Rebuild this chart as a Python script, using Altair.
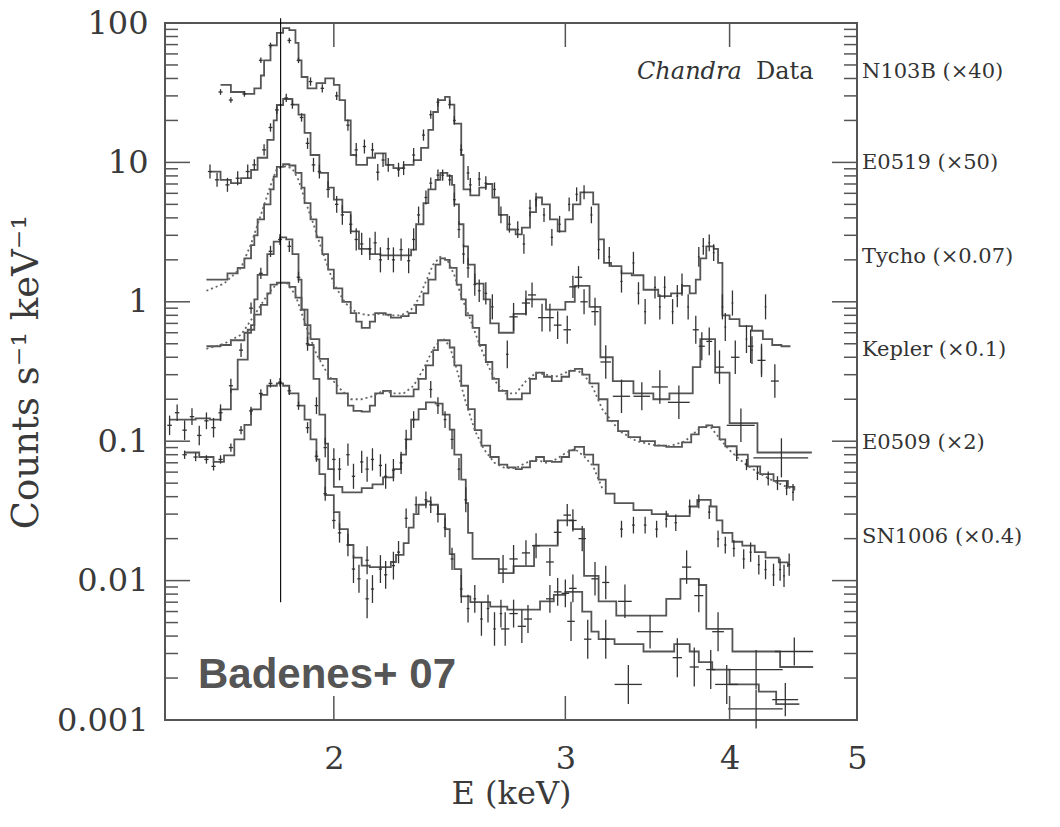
import altair as alt
import pandas as pd

# ---------------- axis ticks / labels ----------------
X_TICKS = [2, 3, 4, 5]
X_TICK_MARKS = [2, 3, 4]
Y_TICKS = [0.001, 0.01, 0.1, 1, 10, 100]
Y_MINOR = [m * t for t in [0.001, 0.01, 0.1, 1, 10] for m in range(2, 10)]
LABELS = ["N103B (×40)", "E0519 (×50)", "Tycho (×0.07)", "Kepler (×0.1)", "E0509 (×2)", "SN1006 (×0.4)"]
SI_LINE_E = [1.822]
SI_LINE_LO = [0.007]
SI_LINE_HI = [108]

# ---------------- model spectra (step histograms) ----------------
n103b_E = [1.64,1.67,1.71,1.74,1.76,1.77,1.79,1.81,1.83,1.85,1.87,1.88,1.89,1.91,1.94,1.97,2.00,2.02,2.04,2.06,
           2.08,2.12,2.15,2.19,2.22,2.26,2.30,2.33,2.36,2.38,2.40,2.43,2.45,2.47,2.50,2.51,2.54,2.58,2.61,2.64,
           2.67,2.71,2.75,2.78,2.82,2.85,2.88,2.92,2.96,3.00,3.04,3.08,3.12,3.15,3.18,3.21,3.25,3.31,3.37,3.44,
           3.53,3.61,3.68,3.73,3.77,3.80,3.84,3.89,3.92,3.95,4.00,4.07,4.16,4.24,4.31,4.38,4.45]
n103b_V = [36,32,31,34,42,54,69,85,92,89,72,54,41,34,37,40,36,28,20,11.3,
           9.6,10.8,11.6,9.6,9.1,9.6,10.4,12.7,17.1,23,28,29.5,26,19,11.3,6.4,5.8,6.6,7.0,5.6,
           4.2,3.3,3.05,3.4,4.4,5.6,5.0,3.9,3.2,3.9,5.0,6.1,6.1,5.0,2.8,1.9,1.8,1.6,1.55,1.22,
           1.1,1.15,1.3,1.15,1.44,2.05,2.5,2.4,1.9,0.8,0.75,0.67,0.62,0.54,0.49,0.48,0.48]

e0519_E = [1.61,1.64,1.67,1.70,1.73,1.75,1.78,1.80,1.81,1.83,1.86,1.88,1.90,1.92,1.95,1.98,2.00,2.03,2.06,2.09,
           2.13,2.17,2.21,2.26,2.29,2.31,2.34,2.36,2.39,2.41,2.44,2.46,2.47,2.49,2.51,2.53,2.56,2.60,2.63,2.67,
           2.74,2.80,2.90,3.00,3.05,3.13,3.19,3.26,3.38,3.50,3.60,3.75,3.80,3.90,4.00,4.20,4.62]
e0519_V = [8.6,7.5,7.1,7.7,8.85,10.8,14.5,20,25.8,28.5,26,22,16.3,11.3,8.4,6.6,5.4,4.4,3.2,2.4,
           2.2,2.15,2.15,2.15,2.37,3.6,5.1,6.4,7.5,8.4,8.0,6.9,5.0,3.6,2.5,1.85,1.35,1.04,0.7,0.6,
           0.82,1.04,0.88,1.0,1.3,0.92,0.4,0.27,0.22,0.2,0.22,0.34,0.54,0.31,0.135,0.083,0.083]

tycho_E = [1.60,1.62,1.66,1.69,1.71,1.73,1.74,1.75,1.77,1.79,1.80,1.81,1.83,1.85,1.87,1.89,1.90,1.92,1.94,1.96,
           1.98,2.00,2.03,2.06,2.08,2.10,2.13,2.15,2.19,2.21,2.25,2.28,2.31,2.34,2.36,2.39,2.41,2.43,2.45,2.48,
           2.50,2.52,2.55,2.58,2.61,2.64,2.67,2.71,2.75,2.78,2.82,2.85,2.89,2.93,2.98,3.02,3.05,3.09,3.13,3.18,
           3.23,3.29,3.35,3.42,3.51,3.58,3.68,3.74,3.79,3.84,3.88,3.93,3.97,4.05,4.13,4.22,4.32,4.43,4.48]
tycho_V = [1.44,1.44,1.6,1.75,2.05,2.55,3.0,3.9,5.0,6.4,7.9,9.3,9.7,9.5,8.4,6.6,5.1,3.9,2.9,2.2,
           1.7,1.25,1.0,0.83,0.72,0.65,0.72,0.83,0.81,0.77,0.79,0.83,0.95,1.15,1.44,1.85,2.05,2.0,1.75,1.33,
           1.04,0.8,0.65,0.49,0.37,0.28,0.23,0.2,0.2,0.22,0.28,0.31,0.29,0.27,0.29,0.32,0.33,0.30,0.26,0.2,
           0.14,0.118,0.107,0.1,0.093,0.091,0.098,0.112,0.126,0.13,0.126,0.103,0.092,0.08,0.066,0.058,0.052,0.047,0.045]

kepler_E = [1.60,1.64,1.67,1.71,1.73,1.74,1.76,1.78,1.79,1.81,1.83,1.85,1.87,1.89,1.90,1.92,1.95,1.98,2.01,2.05,
            2.07,2.10,2.13,2.15,2.18,2.21,2.26,2.30,2.32,2.35,2.38,2.40,2.42,2.45,2.47,2.50,2.53,2.56,2.59,2.63,
            2.67,2.71,2.75,2.78,2.82,2.85,2.89,2.93,2.98,3.02,3.05,3.10,3.15,3.18,3.22,3.27,3.38,3.49,3.59,3.68,
            3.73,3.78,3.82,3.87,3.91,3.95,4.02,4.09,4.18,4.26,4.36,4.43]
kepler_V = [0.48,0.49,0.53,0.6,0.68,0.81,0.95,1.15,1.33,1.37,1.37,1.28,1.07,0.88,0.68,0.54,0.39,0.28,0.22,0.18,
            0.165,0.163,0.18,0.22,0.23,0.21,0.21,0.235,0.28,0.35,0.45,0.53,0.53,0.47,0.35,0.25,0.17,0.12,0.093,0.077,
            0.068,0.065,0.063,0.065,0.072,0.077,0.072,0.071,0.077,0.086,0.091,0.08,0.068,0.053,0.042,0.036,0.032,0.03,0.029,0.029,
            0.034,0.038,0.038,0.034,0.027,0.022,0.019,0.0178,0.016,0.0146,0.0135,0.0125]

e0509_E = [1.50,1.57,1.61,1.64,1.67,1.69,1.72,1.74,1.75,1.78,1.80,1.82,1.84,1.86,1.88,1.89,1.91,1.93,1.95,1.97,
           1.98,2.00,2.03,2.06,2.10,2.14,2.18,2.22,2.25,2.27,2.29,2.32,2.35,2.39,2.42,2.45,2.47,2.50,2.52,2.53,
           2.55,2.67,2.74,2.84,2.96,3.04,3.10,3.18,3.28,3.58,3.67,3.79,3.84,4.02,4.37,4.63]
e0509_V = [0.143,0.146,0.143,0.169,0.235,0.385,0.63,1.04,1.56,2.2,2.7,2.9,2.8,2.2,1.44,0.88,0.49,0.28,0.155,0.096,
           0.063,0.047,0.043,0.043,0.046,0.049,0.055,0.063,0.08,0.103,0.143,0.17,0.19,0.186,0.155,0.121,0.08,0.053,0.036,0.022,
           0.0143,0.0113,0.0127,0.0178,0.027,0.0234,0.0108,0.0071,0.0056,0.0074,0.0103,0.0093,0.0045,0.0031,0.0024,0.0024]

sn1006_E = [1.54,1.58,1.62,1.65,1.68,1.71,1.73,1.76,1.78,1.81,1.83,1.85,1.88,1.90,1.92,1.94,1.95,1.97,2.00,2.02,
            2.05,2.07,2.10,2.13,2.17,2.21,2.23,2.26,2.28,2.30,2.32,2.35,2.37,2.40,2.43,2.45,2.47,2.50,2.54,2.63,
            2.71,2.87,2.94,3.00,3.09,3.14,3.18,3.27,3.44,3.63,3.73,3.79,3.88,4.00,4.21,4.34,4.52]
sn1006_V = [0.083,0.077,0.071,0.079,0.103,0.131,0.169,0.215,0.25,0.26,0.25,0.22,0.18,0.143,0.103,0.074,0.058,0.041,0.031,0.0234,
            0.018,0.0146,0.0128,0.0125,0.0125,0.0136,0.0153,0.0186,0.024,0.03,0.035,0.037,0.035,0.03,0.0234,0.0155,0.0121,0.0077,0.007,0.0065,
            0.0062,0.0071,0.0079,0.0083,0.0060,0.0043,0.0038,0.0035,0.0031,0.0035,0.0031,0.0026,0.0023,0.0018,0.0016,0.0013,0.0013]

# ---------------- dense data drawn as dotted traces (Tycho, Kepler) ----------------
tycho_dE = [1.60,1.65,1.70,1.73,1.76,1.79,1.81,1.84,1.86,1.88,1.90,1.93,1.96,2.00,2.04,2.08,2.12,2.16,2.20,2.25,
            2.29,2.32,2.35,2.38,2.41,2.44,2.47,2.50,2.54,2.58,2.62,2.66,2.70,2.75,2.80,2.85,2.90,2.95,3.00,3.05,
            3.10,3.15,3.20,3.30,3.40,3.50,3.60,3.70,3.80,3.86,3.92,4.00,4.10,4.20,4.30,4.40,4.50]
tycho_dV = [1.2,1.35,1.75,2.6,4.2,6.8,9.0,9.4,9.0,7.5,5.5,3.6,2.3,1.35,0.98,0.84,0.8,0.82,0.8,0.8,
            0.88,1.05,1.4,1.85,2.1,2.0,1.55,1.1,0.75,0.5,0.35,0.26,0.22,0.22,0.27,0.31,0.3,0.29,0.31,0.33,
            0.3,0.24,0.17,0.118,0.1,0.094,0.092,0.1,0.125,0.13,0.108,0.086,0.07,0.06,0.053,0.048,0.044]
kepler_dE = [1.60,1.65,1.70,1.74,1.78,1.81,1.84,1.87,1.90,1.94,1.98,2.02,2.06,2.10,2.14,2.18,2.22,2.26,2.30,2.34,
             2.38,2.42,2.45,2.48,2.52,2.56,2.60,2.65,2.70,2.75,2.80,2.85,2.90,2.95,3.00,3.05,3.10,3.15,3.20]
kepler_dV = [0.46,0.5,0.58,0.8,1.12,1.35,1.38,1.12,0.72,0.42,0.3,0.24,0.2,0.2,0.21,0.23,0.22,0.22,0.25,0.33,
             0.46,0.55,0.48,0.33,0.19,0.12,0.088,0.07,0.064,0.064,0.07,0.074,0.07,0.074,0.082,0.088,0.078,0.066,0.046]

# ---------------- data points with error bars (E keV, counts, err in dex, half bin width keV) ----------------
n103b_pE = [1.64,1.67,1.71,1.76,1.79,1.85,1.88,1.92,1.96,2.01,2.05,2.08,2.11,2.14,2.16,2.18,2.20,2.24,2.26,2.30,
            2.34,2.37,2.40,2.45,2.47,2.50,2.53,2.54,2.58,2.61,2.65,2.68,2.72,2.76,2.79,2.82,2.85,2.89,2.93,2.97,
            3.02,3.06,3.10,3.14,3.18,3.24,3.31,3.38,3.41,3.45,3.51,3.54,3.57,3.62,3.65,3.68,3.72,3.79,3.82,3.86,
            3.89,3.95,3.97,4.02,4.12,4.16,4.23,4.26]
n103b_pV = [32,28,31,54,69,75,54,38,34,30,18.5,12.3,13,12.3,8.5,10.4,9.6,8.85,9.1,11.3,
            15.7,22,27,26,20,12.3,8.4,6.9,7.6,7.1,6.4,4.2,3.6,3.3,2.6,4.7,5.4,4.2,2.9,3.6,
            5.0,5.9,6.1,4.2,2.37,2.1,1.4,1.9,1.15,0.85,1.27,0.92,1.27,0.85,1.1,1.33,0.92,2.1,2.5,2.65,
            2.25,0.92,0.66,0.98,0.54,0.45,0.38,0.92]
n103b_pErr = [0.02,0.02,0.02,0.02,0.02,0.02,0.02,0.03,0.03,0.03,0.04,0.05,0.05,0.05,0.06,0.05,0.05,0.05,0.05,0.05,
              0.04,0.03,0.03,0.03,0.03,0.04,0.05,0.05,0.05,0.05,0.05,0.06,0.06,0.06,0.07,0.06,0.05,0.05,0.06,0.06,
              0.05,0.05,0.05,0.06,0.07,0.07,0.08,0.08,0.08,0.09,0.08,0.09,0.08,0.09,0.08,0.08,0.09,0.07,0.06,0.06,
              0.06,0.09,0.1,0.09,0.1,0.1,0.1,0.09]
n103b_pW = 0.006

e0519_pE = [1.61,1.63,1.66,1.69,1.72,1.74,1.77,1.79,1.81,1.84,1.86,1.89,1.91,1.93,1.95,1.98,2.01,2.03,2.06,2.08,
            2.10,2.13,2.15,2.17,2.20,2.22,2.25,2.28,2.30,2.32,2.35,2.37,2.40,2.42,2.45,2.47,2.49,2.51,2.53,2.56,
            2.58,2.61,2.64,2.71]
e0519_pV = [8.6,7.5,6.9,7.7,8.6,9.6,12.3,17.8,23.8,29,26,21,13.7,9.6,8.6,6.4,5.0,4.2,3.6,2.8,
            2.6,2.4,2.65,2.0,2.4,2.0,2.37,1.97,2.8,4.2,5.6,7.1,8.1,8.1,7.5,5.4,3.3,2.2,1.75,1.33,
            1.2,1.15,0.92,0.42]
e0519_pErr = [0.05,0.05,0.05,0.05,0.05,0.04,0.04,0.03,0.03,0.03,0.03,0.03,0.04,0.05,0.05,0.06,0.06,0.07,0.07,0.08,
              0.08,0.08,0.08,0.09,0.08,0.09,0.08,0.09,0.08,0.06,0.05,0.04,0.04,0.04,0.04,0.05,0.06,0.07,0.07,0.08,
              0.08,0.08,0.09,0.1]
e0519_pW = 0.006
e0519_cE = [2.74,2.80,2.83,2.88,2.92,2.96,3.01,3.04,3.07,3.10,3.16,3.22,3.31,3.43,3.54,3.66,3.77,3.81,3.86,3.93,
            4.04,4.08,4.15,4.23,4.33,4.38]
e0519_cV = [0.78,0.98,1.12,0.77,0.77,0.68,0.63,1.28,1.5,1.0,0.85,0.37,0.21,0.21,0.245,0.19,0.63,0.48,0.52,0.34,
            0.4,0.13,0.48,0.38,0.27,0.076]
e0519_cErr = [0.1,0.09,0.09,0.1,0.1,0.1,0.1,0.08,0.08,0.09,0.1,0.12,0.12,0.1,0.12,0.12,0.1,0.1,0.1,0.12,
              0.12,0.12,0.12,0.12,0.12,0.14]
e0519_cW = [0.02,0.02,0.02,0.02,0.02,0.02,0.02,0.02,0.02,0.02,0.02,0.03,0.05,0.05,0.05,0.07,0.02,0.02,0.02,0.03,
            0.03,0.1,0.02,0.03,0.03,0.21]

tycho_pE = [4.05,4.12,4.20,4.28,4.35,4.42,4.47]
tycho_pV = [0.079,0.068,0.059,0.054,0.05,0.046,0.043]
tycho_pErr = [0.04,0.04,0.05,0.05,0.05,0.05,0.06]

kepler_pE = [3.31,3.38,3.45,3.52,3.58,3.64,3.73,3.79,3.86,3.92,3.97,4.03,4.10,4.15,4.21,4.26,4.32,4.37,4.40,4.44]
kepler_pV = [0.0234,0.025,0.025,0.0234,0.0276,0.026,0.034,0.037,0.031,0.0199,0.018,0.017,0.0143,0.016,0.013,
             0.012,0.011,0.012,0.0108,0.013]
kepler_pErr = [0.06,0.06,0.06,0.06,0.06,0.06,0.05,0.05,0.05,0.06,0.06,0.06,0.07,0.07,0.07,0.07,0.08,0.08,0.08,0.08]

e0509_pE = [1.50,1.52,1.54,1.56,1.58,1.60,1.62,1.64,1.67,1.70,1.73,1.76,1.79,1.82,1.85,1.88,1.91,1.94,1.97,
            2.00,2.02,2.05,2.07,2.10,2.12,2.14,2.17,2.19,2.22,2.25,2.27,2.30,2.37,2.40,2.43,2.46,2.49,2.52]
e0509_pV = [0.13,0.16,0.12,0.15,0.11,0.14,0.125,0.16,0.25,0.45,0.9,1.6,2.3,2.8,2.5,1.5,0.5,0.18,0.09,
            0.074,0.063,0.08,0.056,0.071,0.063,0.074,0.067,0.056,0.062,0.07,0.103,0.143,0.235,0.18,0.143,0.103,0.063,0.038]
e0509_pErr = [0.07,0.06,0.07,0.06,0.07,0.06,0.07,0.06,0.05,0.05,0.04,0.04,0.04,0.04,0.04,0.04,0.05,0.06,0.07,
              0.08,0.08,0.08,0.09,0.08,0.09,0.08,0.08,0.09,0.08,0.08,0.07,0.06,0.06,0.06,0.06,0.07,0.08,0.09]
e0509_pW = 0.006
e0509_cE = [2.69,2.74,2.80,2.85,2.92,2.96,3.01,3.04,3.09,3.16,3.22,3.33,3.48,3.71,3.79,3.92,4.19,4.48]
e0509_cV = [0.0121,0.0143,0.0158,0.0178,0.0136,0.0222,0.0295,0.027,0.02,0.0103,0.0097,0.0071,0.0043,0.0125,
            0.0078,0.0043,0.0023,0.0031]
e0509_cErr = [0.1,0.1,0.09,0.09,0.1,0.09,0.08,0.08,0.09,0.12,0.12,0.12,0.12,0.12,0.12,0.14,0.14,0.1]
e0509_cW = [0.02,0.02,0.02,0.02,0.02,0.02,0.02,0.02,0.02,0.02,0.02,0.04,0.08,0.03,0.03,0.04,0.2,0.15]

sn1006_pE = [1.54,1.57,1.60,1.62,1.64,1.67,1.70,1.73,1.76,1.79,1.82,1.85,1.88,1.91,1.94,1.97,
             2.00,2.02,2.05,2.07,2.09,2.12,2.12,2.14,2.17,2.19,2.22,2.24,
             2.27,2.31,2.35,2.37,2.40,2.43,2.46,2.50,2.53,2.56,2.59,2.62,2.65,2.68]
sn1006_pV = [0.08,0.077,0.074,0.066,0.074,0.09,0.12,0.165,0.22,0.26,0.265,0.23,0.18,0.125,0.078,0.042,
             0.027,0.022,0.018,0.0121,0.0103,0.014,0.0074,0.0087,0.0121,0.011,0.0128,0.016,
             0.028,0.035,0.038,0.035,0.03,0.024,0.0143,0.0087,0.0063,0.0074,0.0053,0.0063,0.0045,0.0058]
sn1006_pErr = [0.03,0.03,0.03,0.03,0.03,0.03,0.03,0.03,0.03,0.03,0.03,0.03,0.03,0.04,0.04,0.05,
               0.06,0.07,0.08,0.1,0.1,0.1,0.14,0.1,0.1,0.1,0.1,0.08,
               0.07,0.06,0.06,0.06,0.06,0.07,0.08,0.1,0.1,0.1,0.12,0.1,0.12,0.1]
sn1006_pW = 0.006
sn1006_cE = [2.70,2.74,2.78,2.81,2.92,2.96,3.00,3.03,3.04,3.12,3.22,3.35,3.65,3.76,3.87,3.98,4.19,4.41]
sn1006_cV = [0.0045,0.0058,0.0047,0.0053,0.0074,0.0083,0.0081,0.0051,0.0088,0.0038,0.0038,0.0018,0.0028,0.0024,
             0.0023,0.0018,0.0012,0.0014]
sn1006_cErr = [0.12,0.1,0.12,0.1,0.1,0.1,0.1,0.14,0.1,0.14,0.14,0.14,0.14,0.14,0.14,0.14,0.14,0.12]
sn1006_cW = [0.02,0.02,0.02,0.02,0.02,0.02,0.02,0.02,0.02,0.02,0.02,0.08,0.03,0.03,0.03,0.08,0.2,0.1]

# ---------------- build tables ----------------
def model_rows(name, E, V):
    return [{"spec": name, "E": e, "V": v, "i": i} for i, (e, v) in enumerate(zip(E, V))]


def point_rows(name, E, V, err, w):
    rows = []
    for i, (e, v) in enumerate(zip(E, V)):
        d = err[i] if isinstance(err, list) else err
        hw = w[i] if isinstance(w, list) else w
        rows.append({"spec": name, "E": e, "V": v, "lo": v / 10 ** d, "hi": v * 10 ** d,
                     "xlo": e - hw, "xhi": e + hw})
    return rows


models = pd.DataFrame(
    model_rows("N103B", n103b_E, n103b_V) + model_rows("E0519", e0519_E, e0519_V)
    + model_rows("Tycho", tycho_E, tycho_V) + model_rows("Kepler", kepler_E, kepler_V)
    + model_rows("E0509", e0509_E, e0509_V) + model_rows("SN1006", sn1006_E, sn1006_V))

dotted = pd.DataFrame(model_rows("Tycho", tycho_dE, tycho_dV) + model_rows("Kepler", kepler_dE, kepler_dV))

points = pd.DataFrame(
    point_rows("N103B", n103b_pE, n103b_pV, n103b_pErr, n103b_pW)
    + point_rows("E0519", e0519_pE, e0519_pV, e0519_pErr, e0519_pW)
    + point_rows("E0519", e0519_cE, e0519_cV, e0519_cErr, e0519_cW)
    + point_rows("Tycho", tycho_pE, tycho_pV, tycho_pErr, 0.008)
    + point_rows("Kepler", kepler_pE, kepler_pV, kepler_pErr, 0.008)
    + point_rows("E0509", e0509_pE, e0509_pV, e0509_pErr, e0509_pW)
    + point_rows("E0509", e0509_cE, e0509_cV, e0509_cErr, e0509_cW)
    + point_rows("SN1006", sn1006_pE, sn1006_pV, sn1006_pErr, sn1006_pW)
    + point_rows("SN1006", sn1006_cE, sn1006_cV, sn1006_cErr, sn1006_cW))

# ---------------- chart ----------------
W, H = 692, 697
SERIF = "DejaVu Serif"
INK = "#3a3a3a"

xs = alt.Scale(type="log", domain=[1.488, 5.0], nice=False)
ys = alt.Scale(type="log", domain=[0.001, 100], nice=False)

x_axis = alt.Axis(values=X_TICKS, format="d", labelFont=SERIF, labelFontSize=32, labelColor=INK,
                  ticks=False, domain=False, grid=False, labelPadding=23, labelFlush=False,
                  labelOverlap=False, title="E (keV)", titleFont=SERIF, titleFontSize=32,
                  titleFontWeight="normal", titleColor=INK, titlePadding=4)
y_axis = alt.Axis(values=Y_TICKS, format=".3~g", labelFont=SERIF, labelFontSize=32, labelColor=INK,
                  ticks=False, domain=False, grid=False, labelPadding=17, labelFlush=False,
                  labelOverlap=False, title="Counts s⁻¹ keV⁻¹", titleFont=SERIF, titleFontSize=37,
                  titleFontWeight="normal", titleColor=INK, titlePadding=11)


def X(f):
    return alt.X(f"{f}:Q", scale=xs, axis=x_axis)


def Y(f):
    return alt.Y(f"{f}:Q", scale=ys, axis=y_axis)


model_layer = alt.Chart(models).mark_line(interpolate="step-after", color="#555555", strokeWidth=1.8).encode(
    x=X("E"), y=Y("V"), detail="spec:N", order="i:Q")

dotted_layer = alt.Chart(dotted).mark_line(color="#666666", strokeWidth=1.8, strokeDash=[2, 3]).encode(
    x=X("E"), y=Y("V"), detail="spec:N", order="i:Q")

vbars = alt.Chart(points).mark_rule(color="#333333", strokeWidth=1.3).encode(
    x=X("E"), y=Y("lo"), y2="hi:Q")
hbars = alt.Chart(points).mark_rule(color="#333333", strokeWidth=1.3).encode(
    x=X("xlo"), x2="xhi:Q", y=Y("V"))

TICK_COLOR = "#555555"
ymaj = pd.DataFrame({"v": Y_TICKS})
ymin = pd.DataFrame({"v": Y_MINOR})
xmaj = pd.DataFrame({"v": X_TICK_MARKS})

tick_layers = [
    alt.Chart(ymaj).mark_rule(color=TICK_COLOR, strokeWidth=1.5).encode(y=Y("v"), x=alt.value(0), x2=alt.value(25)),
    alt.Chart(ymin).mark_rule(color=TICK_COLOR, strokeWidth=1.5).encode(y=Y("v"), x=alt.value(0), x2=alt.value(13)),
    alt.Chart(ymaj).mark_rule(color=TICK_COLOR, strokeWidth=1.5).encode(y=Y("v"), x=alt.value(W), x2=alt.value(W - 25)),
    alt.Chart(ymin).mark_rule(color=TICK_COLOR, strokeWidth=1.5).encode(y=Y("v"), x=alt.value(W), x2=alt.value(W - 13)),
    alt.Chart(xmaj).mark_rule(color=TICK_COLOR, strokeWidth=1.5).encode(x=X("v"), y=alt.value(0), y2=alt.value(24)),
    alt.Chart(xmaj).mark_rule(color=TICK_COLOR, strokeWidth=1.5).encode(x=X("v"), y=alt.value(H), y2=alt.value(H - 24)),
]

si_line = alt.Chart(pd.DataFrame({"E": SI_LINE_E, "lo": SI_LINE_LO, "hi": SI_LINE_HI})).mark_rule(
    color="black", strokeWidth=1.1, clip=False).encode(x=X("E"), y=Y("lo"), y2="hi:Q")

one = pd.DataFrame({"t": [""]})
LABEL_Y = [49, 140, 234, 327, 420, 514]
label_layers = [
    alt.Chart(one).mark_text(text=lab, font=SERIF, fontSize=21, color="#333333", align="left",
                             baseline="middle").encode(x=alt.value(W + 5), y=alt.value(yy))
    for lab, yy in zip(LABELS, LABEL_Y)
]

chandra = alt.Chart(one).mark_text(text="Chandra", font=SERIF, fontSize=24, fontStyle="italic",
                                   color="#333333", align="left", baseline="middle").encode(
    x=alt.value(472), y=alt.value(49))
data_txt = alt.Chart(one).mark_text(text="Data", font=SERIF, fontSize=24, color="#333333",
                                    align="left", baseline="middle").encode(x=alt.value(591), y=alt.value(49))
badenes = alt.Chart(one).mark_text(text="Badenes+ 07", font="Liberation Sans", fontSize=42, fontWeight="bold",
                                   color="#555555", align="left", baseline="alphabetic").encode(
    x=alt.value(33), y=alt.value(665))

chart = alt.layer(
    model_layer, dotted_layer, vbars, hbars, *tick_layers, si_line,
    *label_layers, chandra, data_txt, badenes
).properties(
    width=W, height=H,
    autosize=alt.AutoSizeParams(type="none"),
    padding={"left": 165, "top": 23, "right": 203, "bottom": 107},
    background="white",
).configure_view(stroke="#555555", strokeWidth=2)

chart.save("out.html", embed_options={"renderer": "svg", "actions": False})
